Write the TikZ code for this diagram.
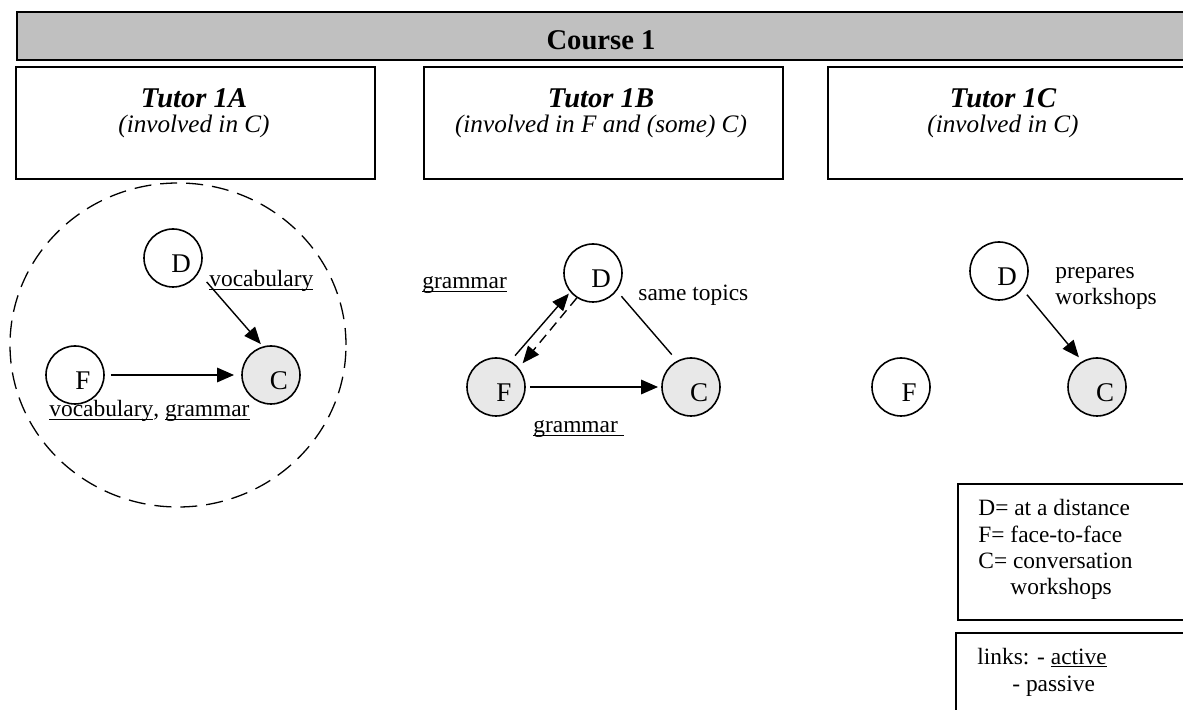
\documentclass[tikz,border=0pt]{standalone}
\usepackage{fontspec}
\setmainfont{Liberation Serif}
\usetikzlibrary{arrows.meta,shapes.geometric}

\definecolor{bannergrey}{HTML}{C0C0C0}
\definecolor{circlegrey}{HTML}{E8E8E8}

% underline that sits just under the baseline
\newcommand{\ulword}[1]{\setbox0=\hbox{#1}\rlap{\rule[-1.4pt]{\wd0}{0.6pt}}\box0}

\begin{document}
\begin{tikzpicture}[x=0.5pt, y=-0.5pt,
banner/.style={rectangle, draw=black, fill=bannergrey, line width=1.1pt, anchor=north west, minimum width=590pt, minimum height=24pt, inner sep=0pt},
tutor_box/.style={rectangle, draw=black, line width=1.1pt, anchor=north west, minimum width=179.5pt, minimum height=56pt, inner sep=0pt},
legend_box/.style={rectangle, draw=black, line width=1.1pt, anchor=north west, minimum width=120pt, inner sep=0pt},
tutor_name/.style={font=\fontsize{14.3pt}{16pt}\selectfont\bfseries\itshape, anchor=base, inner sep=0pt},
tutor_role/.style={font=\fontsize{12.6pt}{14pt}\selectfont\itshape, anchor=base, inner sep=0pt},
white_circle/.style={circle, draw=black, line width=0.8pt, fill=white, minimum size=29pt, inner sep=0pt},
grey_circle/.style={white_circle, fill=circlegrey},
letter/.style={font=\fontsize{13.5pt}{15pt}\selectfont, inner sep=0pt, xshift=4pt, yshift=-3pt},
group_ring/.style={ellipse, draw=black, line width=0.65pt, dash pattern=on 8.5pt off 4.5pt, minimum width=168pt, minimum height=162pt},
active_arrow/.style={-{Triangle[length=8.5pt,width=7pt]}, line width=1.4pt},
thin_arrow/.style={-{Triangle[length=8.5pt,width=7pt]}, line width=0.7pt},
passive_arrow/.style={thin_arrow, dash pattern=on 5pt off 3pt},
plain_link/.style={line width=0.7pt},
edge_text/.style={font=\fontsize{11.7pt}{13pt}\selectfont, inner sep=0pt, anchor=base west},
legend_text/.style={font=\fontsize{11.7pt}{13.2pt}\selectfont, inner sep=0pt, anchor=north west, align=left}
]
\useasboundingbox (0,0) rectangle (1183,710);
\clip (0,0) rectangle (1183,710);

% banner and the three tutor boxes
\node[banner](course) at (16,11) {};
\node[font=\fontsize{14.3pt}{16pt}\selectfont\bfseries, inner sep=0pt](course_title) at (601,40) {Course 1};

\node[tutor_box](box_A) at (15,66) {};
\node[tutor_box](box_B) at (423,66) {};
\node[tutor_box](box_C) at (827,66) {};

\node[tutor_name](tutor_A) at (194,108) {Tutor 1A};
\node[tutor_role](role_A) at (194,133) {(involved in C)};
\node[tutor_name](tutor_B) at (601,108) {Tutor 1B};
\node[tutor_role](role_B) at (601,133) {(involved in F and (some) C)};
\node[tutor_name](tutor_C) at (1003,108) {Tutor 1C};
\node[tutor_role](role_C) at (1003,133) {(involved in C)};

% tutor 1A
\node[group_ring](ring_A) at (178,345) {};
\node[white_circle, label={[letter]center:D}](aD) at (173,258) {};
\node[white_circle, label={[letter]center:F}](aF) at (75,375) {};
\node[grey_circle, label={[letter]center:C}](aC) at (271,375) {};

\draw[thin_arrow, shorten <=6pt, shorten >=1.5pt](aD.-30) -- (aC.106);
\draw[active_arrow, shorten <=3pt, shorten >=3.5pt](aF) -- (aC);

\node[edge_text](vocab_A) at (209,287) {\ulword{vocabulary}};
\node[edge_text](vocab_gram_A) at (49,417) {\ulword{vocabulary}, \ulword{grammar}};

% tutor 1B
\node[white_circle, label={[letter]center:D}](bD) at (593,273) {};
\node[grey_circle, label={[letter]center:F}](bF) at (496,387) {};
\node[grey_circle, label={[letter]center:C}](bC) at (691,387) {};

\draw[thin_arrow, shorten <=3.5pt, shorten >=1pt](bF.61) -- (bD.220);
\draw[passive_arrow, shorten >=3pt](bD.237) -- (bF.40);
\draw[plain_link, shorten <=3.5pt, shorten >=4pt](bD.-37) -- (bC.118);
\draw[active_arrow, shorten <=2pt, shorten >=1.5pt](bF) -- (bC);

\node[edge_text](gram_left_B) at (422,289) {\ulword{grammar}};
\node[edge_text](topics_B) at (638,301) {same topics};
\node[edge_text](gram_low_B) at (533,433) {\ulword{grammar\ }};

% tutor 1C
\node[white_circle, label={[letter]center:D}](cD) at (999,271) {};
\node[white_circle, label={[letter]center:F}](cF) at (901,387) {};
\node[grey_circle, label={[letter]center:C}](cC) at (1097,387) {};

\draw[thin_arrow, shorten <=3.5pt, shorten >=2.5pt](cD.-38) -- (cC.120);

\node[legend_text](prepares_C) at (1055,267) {prepares\\workshops};

% legend
\node[legend_box, minimum height=68pt](key_box) at (957,483) {};
\node[legend_text](key_text) at (978,499) {D= at a distance\\F= face-to-face\\C= conversation\\\hspace*{16pt}workshops};

\node[legend_box, minimum height=50pt](links_box) at (955,632) {};
\node[legend_text](links_text) at (977,648) {links: - \ulword{active}\\\hspace*{17.5pt}- passive};

\end{tikzpicture}
\end{document}
